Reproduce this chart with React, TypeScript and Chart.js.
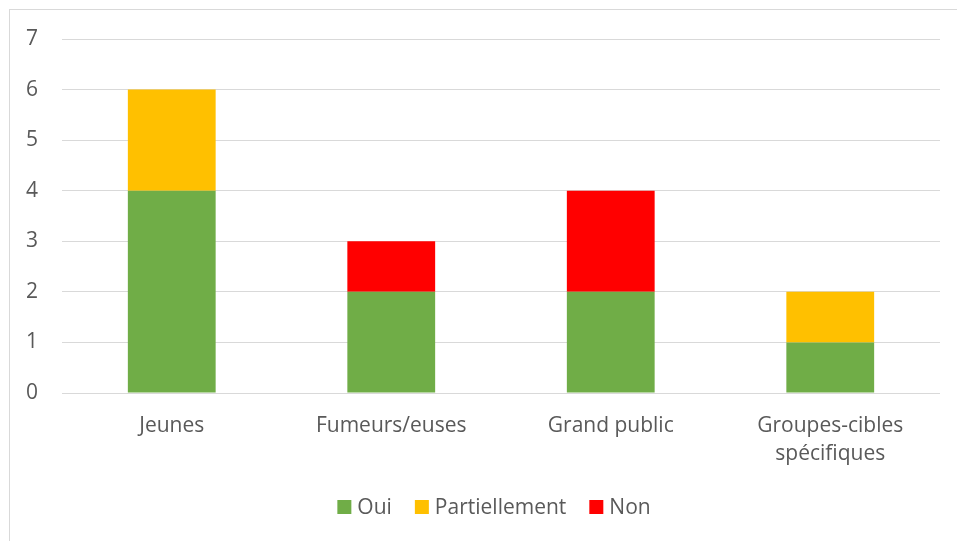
import React, { useEffect, useRef } from "react";
import { Chart, registerables } from "chart.js";

Chart.register(...registerables);

const categories: (string | string[])[] = [
  "Jeunes",
  "Fumeurs/euses",
  "Grand public",
  ["Groupes-cibles", "spécifiques"],
];
const oui = [4, 2, 2, 1];
const partiellement = [2, 0, 0, 1];
const non = [0, 1, 2, 0];
const yTicks = [0, 1, 2, 3, 4, 5, 6, 7];

const FONT = "'Open Sans', sans-serif";
const TEXT = "#595959";

const legendPlugin = {
  id: "customLegend",
  afterDraw(chart: any) {
    const ctx = chart.ctx as CanvasRenderingContext2D;
    const items = chart.data.datasets.map((d: any) => ({
      label: d.label as string,
      color: d.backgroundColor as string,
    }));
    ctx.save();
    ctx.font = `21px ${FONT}`;
    const box = 14;
    const gapBoxText = 6;
    const gapItems = 23;
    const widths = items.map((it: any) => box + gapBoxText + ctx.measureText(it.label).width);
    const total = widths.reduce((a: number, b: number) => a + b, 0) + gapItems * (items.length - 1);
    const cx = 494;
    const cy = 507;
    let x = cx - total / 2;
    ctx.textBaseline = "middle";
    ctx.textAlign = "left";
    items.forEach((it: any, i: number) => {
      ctx.fillStyle = it.color;
      ctx.fillRect(x, cy - box / 2, box, box);
      ctx.fillStyle = TEXT;
      ctx.fillText(it.label, x + box + gapBoxText, cy + 1);
      x += widths[i] + gapItems;
    });
    ctx.restore();
  },
};

export default function App() {
  const ref = useRef<HTMLCanvasElement>(null);
  useEffect(() => {
    if (!ref.current) return;
    const chart = new Chart(ref.current, {
      type: "bar",
      data: {
        labels: categories as any,
        datasets: [
          { label: "Oui", data: oui, backgroundColor: "#70ad47" },
          { label: "Partiellement", data: partiellement, backgroundColor: "#ffc000" },
          { label: "Non", data: non, backgroundColor: "#ff0000" },
        ],
      },
      plugins: [legendPlugin],
      options: {
        animation: false,
        responsive: false,
        layout: { padding: { left: 0, right: 17, top: 39, bottom: 53 } },
        datasets: { bar: { categoryPercentage: 1, barPercentage: 0.4, borderWidth: 0 } },
        plugins: {
          tooltip: { enabled: false },
          legend: { display: false },
        },
        scales: {
          x: {
            stacked: true,
            grid: { display: false, drawTicks: false },
            border: { display: false },
            ticks: {
              font: { family: FONT, size: 21, lineHeight: 1.333 },
              color: TEXT,
              padding: 19,
              maxRotation: 0,
            },
            afterFit: (s: any) => {
              s.height = 95;
            },
          },
          y: {
            stacked: true,
            min: 0,
            max: 7,
            afterBuildTicks: (s: any) => {
              s.ticks = yTicks.map((v) => ({ value: v }));
            },
            grid: { color: "#d9d9d9", lineWidth: 1, drawTicks: false },
            border: { display: false },
            ticks: {
              font: { family: FONT, size: 21 },
              color: TEXT,
              padding: 24,
            },
            afterFit: (s: any) => {
              s.width = 62;
            },
          },
        },
      },
    });
    return () => chart.destroy();
  }, []);
  return (
    <div
      style={{
        position: "fixed",
        left: 0,
        top: 0,
        width: 957,
        height: 541,
        overflow: "hidden",
        background: "#fff",
      }}
    >
      <div
        style={{
          position: "absolute",
          left: 9,
          top: 9,
          width: 1000,
          height: 600,
          border: "1px solid #d9d9d9",
        }}
      />
      <canvas
        ref={ref}
        width={957}
        height={541}
        style={{ position: "absolute", left: 0, top: 0 }}
      />
    </div>
  );
}
